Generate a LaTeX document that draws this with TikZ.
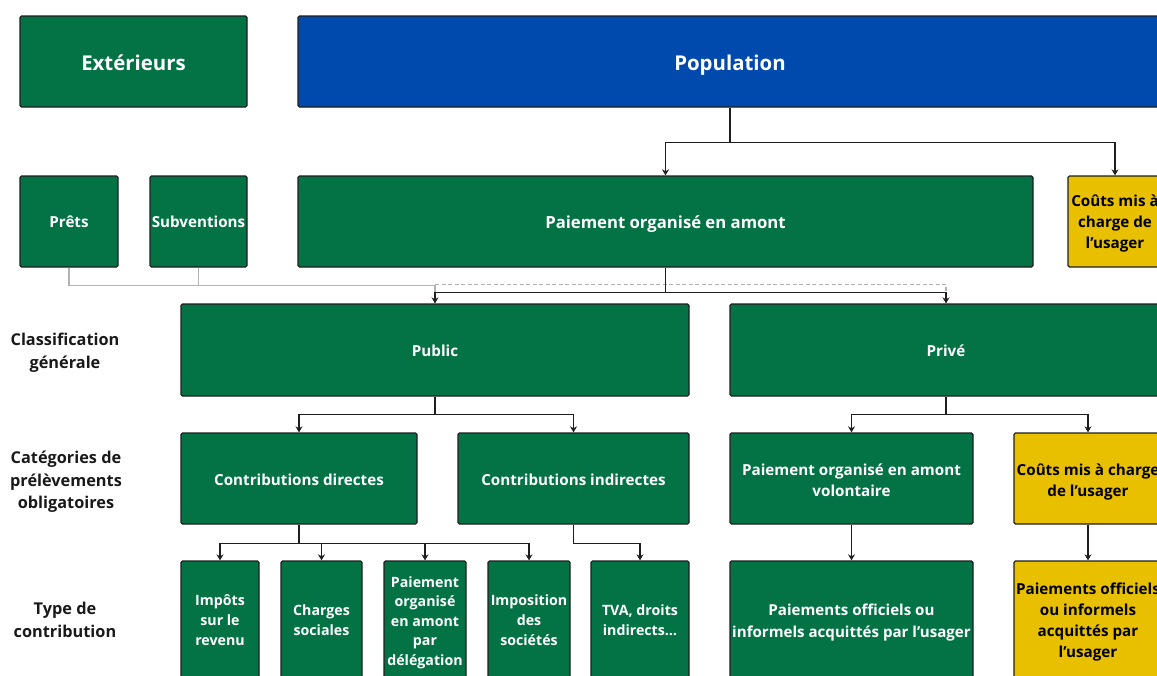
\documentclass[tikz,border=0pt]{standalone}
\usepackage{fontspec}
\setmainfont{Open Sans}
\usetikzlibrary{arrows.meta}
\definecolor{bgreen}{RGB}{3,114,69}
\definecolor{bblue}{RGB}{0,73,173}
\definecolor{byellow}{RGB}{233,192,0}
\definecolor{lineblk}{RGB}{30,30,30}
\definecolor{linegray}{RGB}{178,178,178}
% #1 name, #2-#5 corners, #6 style, #7 text yshift, #8 text
\newcommand\bx[8]{%
  \node[box,#6,minimum width={#4-#2},minimum height={#5-#3}] (#1) at ({(#2+#4)/2},{(#3+#5)/2}) {};
  \node[boxtxt,#6] (#1-t) at ([yshift=#7]#1.center) {#8};}
\begin{document}
\begin{tikzpicture}[x=1pt,y=-1pt,
 box/.style={draw=lineblk, line width=1.3pt, rounded corners=1.5pt, inner sep=0pt, fill=bgreen},
 boxtxt/.style={inner sep=0pt, align=center, text=white, font=\bfseries\fontsize{15.2}{21}\selectfont},
 big/.style={font=\bfseries\fontsize{20.4}{24}\selectfont},
 small/.style={font=\bfseries\fontsize{14.2}{20}\selectfont},
 yel/.style={fill=byellow, text=black},
 blu/.style={fill=bblue},
 lab/.style={align=center, font=\bfseries\fontsize{16.3}{22.6}\selectfont, text=black!90},
 conn/.style={draw=lineblk, line width=1.3pt, -{Stealth[length=6pt,width=7pt]}},
 gline/.style={draw=linegray, line width=1.3pt},
 gdash/.style={draw=linegray, line width=1.1pt, dash pattern=on 4pt off 2.5pt}]
\useasboundingbox (0,0) rectangle (1157,675);
\clip (0,0) rectangle (1157,675);
% top row
\bx{ext}{20}{16}{247}{107}{big}{-1pt}{Extérieurs}
\bx{pop}{298}{16}{1162}{107}{big,blu}{-4pt}{Population}
% second row
\bx{prets}{20}{176}{118}{267}{}{0pt}{Prêts}
\bx{subv}{150}{176}{247}{267}{}{0pt}{Subventions}
\bx{pay}{298}{176}{1033}{267}{font=\bfseries\fontsize{16.7}{21}\selectfont}{-2.5pt}{Paiement organisé en amont}
\bx{cout}{1068}{176}{1162}{267}{yel}{-2pt}{Coûts mis à\\charge de\\l’usager}
% classification
\bx{pub}{181}{304}{689}{396}{}{-1pt}{Public}
\bx{priv}{730}{304}{1162}{396}{}{-1pt}{Privé}
% categories
\bx{cd}{181}{433}{417}{524}{}{-1pt}{Contributions directes}
\bx{ci}{458}{433}{689}{524}{}{-1pt}{Contributions indirectes}
\bx{vol}{730}{433}{973}{524}{}{-2pt}{Paiement organisé en amont\\volontaire}
\bx{cout2}{1014}{433}{1162}{524}{yel}{-3pt}{Coûts mis à charge\\de l’usager}
% types
\bx{t1}{181}{561}{259}{679}{small}{0pt}{Impôts\\sur le\\revenu}
\bx{t2}{281}{561}{362}{679}{small}{0pt}{Charges\\sociales}
\bx{t3}{384}{561}{466}{679}{small,font=\bfseries\fontsize{14.2}{19.5}\selectfont}{-2.5pt}{Paiement\\organisé\\en amont\\par\\délégation}
\bx{t4}{488}{561}{570}{679}{small}{0pt}{Imposition\\des\\sociétés}
\bx{t5}{591}{561}{689}{679}{small}{0pt}{TVA, droits\\indirects…}
\bx{t6}{730}{561}{973}{679}{font=\bfseries\fontsize{15.1}{22}\selectfont}{-3pt}{Paiements officiels ou\\informels acquittés par l’usager}
\bx{t7}{1014}{561}{1162}{679}{yel}{-2pt}{Paiements officiels\\ou informels\\acquittés par\\l’usager}
% row labels
\node[lab] (l1) at (65,353) {Classification\\générale};
\node[lab] (l2) at (66,482) {Catégories de\\prélèvements\\obligatoires};
\node[lab] (l3) at (65,620) {Type de\\contribution};
% connectors
\draw[conn] (pop.south) -- ++(0,35) -| (pay.north);
\draw[conn] (pop.south) -- ++(0,35) -| (cout.north);
\draw[gline] (prets.south) -- ++(0,18) -| (pub.north);
\draw[gline] (subv.south) -- ++(0,18);
\draw[gdash] (pub.north) ++(0,-19) -| (priv.north);
\draw[conn] (pay.south) -- ++(0,25) -| (pub.north);
\draw[conn] (pay.south) -- ++(0,25) -| (priv.north);
\draw[conn] (pub.south) -- ++(0,18) -| (cd.north);
\draw[conn] (pub.south) -- ++(0,18) -| (ci.north);
\draw[conn] (priv.south) -- ++(0,18) -| (vol.north);
\draw[conn] (priv.south) -- ++(0,18) -| (cout2.north);
\draw[conn] (cd.south) -- ++(0,19) -| (t1.north);
\draw[conn] (cd.south) -- ++(0,19) -| (t2.north);
\draw[conn] (cd.south) -- ++(0,19) -| (t3.north);
\draw[conn] (cd.south) -- ++(0,19) -| (t4.north);
\draw[conn] (ci.south) -- ++(0,19) -| (t5.north);
\draw[conn] (vol.south) -- (t6.north);
\draw[conn] (cout2.south) -- (t7.north);
\end{tikzpicture}
\end{document}
